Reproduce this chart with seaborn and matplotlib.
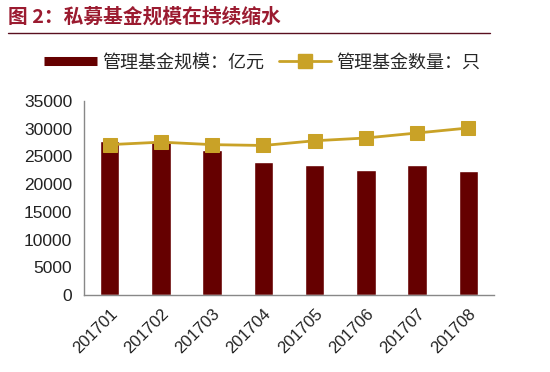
import numpy as np
import pandas as pd
import matplotlib
matplotlib.use("Agg")
import matplotlib.pyplot as plt
from matplotlib.lines import Line2D
import seaborn as sns

# ── Data ───────────────────────────────────────────────────────────────────────
months = ["201701", "201702", "201703", "201704", "201705", "201706", "201707", "201708"]
scale = [27800, 27600, 26100, 24000, 23400, 22600, 23400, 22300]      # 亿元
count = [27100, 27550, 27100, 26950, 27800, 28300, 29200, 30100]      # 只

BAR_COL = "#650000"
LINE_COL = "#C9A227"
TITLE_COL = "#9B1B30"
CJK = ["Noto Sans CJK SC", "DejaVu Sans"]

sns.set_style("white")
plt.rcParams["font.family"] = ["Liberation Sans", "Noto Sans CJK SC", "DejaVu Sans"]

df = pd.DataFrame({"month": months, "scale": scale, "count": count})

fig = plt.figure(figsize=(5.5, 3.72), dpi=100)
ax = fig.add_axes([0.153, 0.207, 0.745, 0.522])

sns.barplot(data=df, x="month", y="scale", color=BAR_COL, width=0.38,
            saturation=1, ax=ax, zorder=2)
sns.lineplot(x=np.arange(len(months)), y=count, color=LINE_COL, linewidth=2,
             marker="s", markersize=10, markeredgecolor=LINE_COL, ax=ax, zorder=3)

ax.set_ylim(0, 35000)
ax.set_xlim(-0.5, len(months) - 0.5)
ax.set_yticks(np.arange(0, 35001, 5000))
ax.set_xlabel("")
ax.set_ylabel("")
ax.set_xticks(np.arange(len(months)))
ax.set_xticklabels(months, rotation=45, ha="right", rotation_mode="anchor", fontsize=12, color="#222222")
ax.set_xticks(np.arange(-0.5, len(months)), minor=True)
ax.tick_params(axis="x", which="major", length=0, pad=8)
ax.tick_params(axis="x", which="minor", length=5, color="#888888", width=1)
ax.tick_params(axis="y", length=5, color="#888888", width=1, labelsize=12.5, labelcolor="#222222")
for s in ["top", "right"]:
    ax.spines[s].set_visible(False)
for s in ["left", "bottom"]:
    ax.spines[s].set_color("#888888")
    ax.spines[s].set_linewidth(1)

# title + rule
fig.text(0.015, 0.955, "图 2：私募基金规模在持续缩水", fontsize=14.2, fontweight="bold",
         color=TITLE_COL, family=CJK, va="center", ha="left")
fig.add_artist(Line2D([0.015, 0.89], [0.912, 0.912], color="#5a1020", linewidth=1))

handles = [
    Line2D([], [], color=BAR_COL, linewidth=6.5, solid_capstyle="butt"),
    Line2D([], [], color=LINE_COL, linewidth=2, marker="s", markersize=10),
]
fig.legend(handles, ["管理基金规模：亿元", "管理基金数量：只"], loc="center",
           bbox_to_anchor=(0.477, 0.832), ncol=2, frameon=False, handlelength=2.9,
           columnspacing=0.8, handletextpad=0.3, prop={"family": CJK, "size": 13})

fig.savefig("out.png", dpi=100, facecolor="white")
